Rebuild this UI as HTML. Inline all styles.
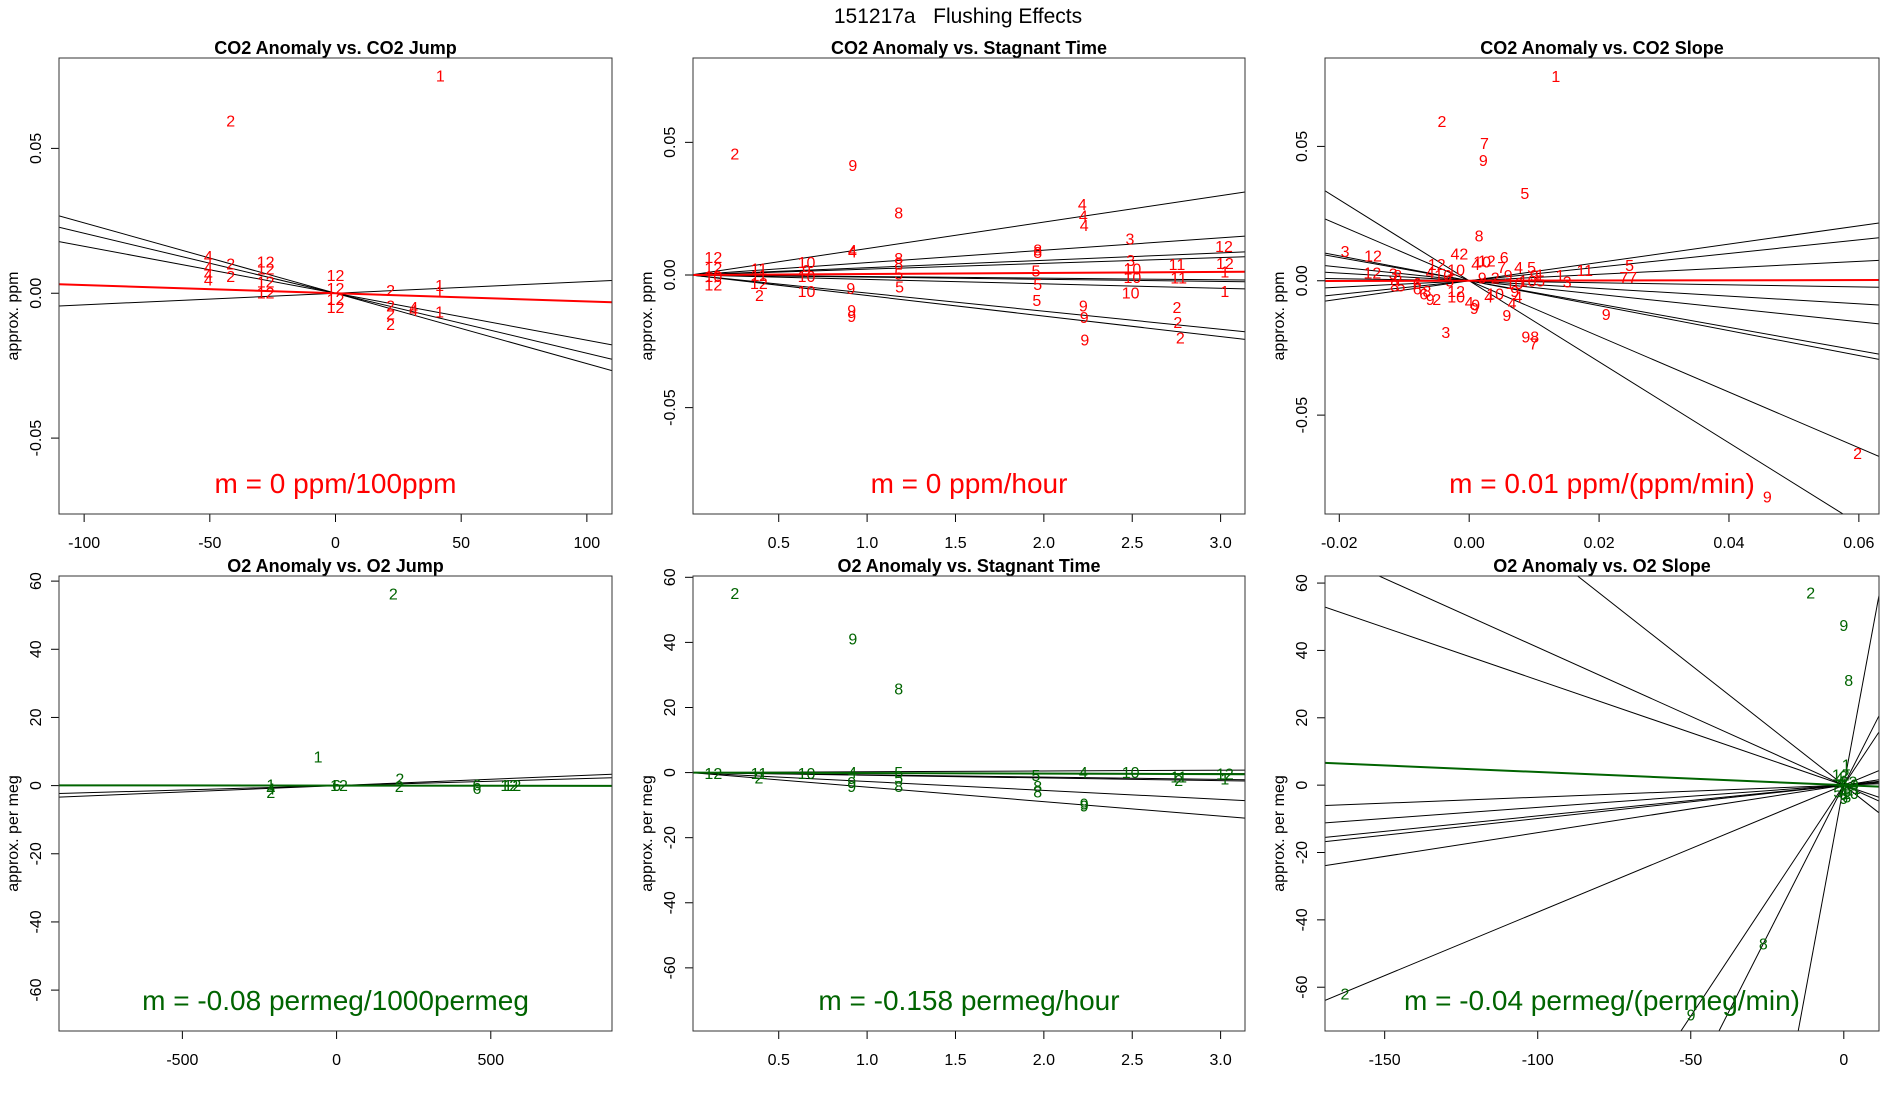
<!DOCTYPE html>
<html><head><meta charset="utf-8"><style>
html,body{margin:0;padding:0;background:#fff;width:1900px;height:1100px;overflow:hidden;}
svg{display:block;font-family:"Liberation Sans",Arial,sans-serif;}
</style></head><body>
<svg id="chart" width="1900" height="1100" viewBox="0 0 1900 1100" xmlns="http://www.w3.org/2000/svg">
<rect width="1900" height="1100" fill="#fff"/>
<text x="958" y="23" font-size="21" text-anchor="middle">151217a&#160;&#160;&#160;Flushing Effects</text>
</svg>
<script>
// ---- Panel 1: CO2 Anomaly vs CO2 Jump ----
const p1X=[41.7,-41.7,-50.6,-50.6,-50.6,-50.6,-41.7,-41.7,-27.8,-27.8,-27.8,-27.8,0,0,0,0,21.9,21.9,21.9,21.9,31.1,31.1,41.4,41.4,41.4];
const p1Y=[0.075,0.0594,0.0126,0.0089,0.0064,0.0046,0.0101,0.0058,0.0107,0.0083,0.0039,0.0,0.0062,0.0017,-0.0022,-0.0049,0.0009,-0.0044,-0.0071,-0.0108,-0.0049,-0.0059,0.0027,0.0005,-0.0065];
const p1Lab=["1","2","4","4","4","4","2","2","12","12","12","12","12","12","12","12","2","2","2","2","4","4","1","1","1"];
const p1Slopes=[-0.000243,-0.000207,-0.000162,0.00004];
const p1Fit=[-0.0000282];
// ---- Panel 2: CO2 Anomaly vs Stagnant Time ----
const p2X=[0.252,0.919,1.179,2.218,2.223,2.228,0.917,0.917,0.130,0.130,0.130,0.130,0.388,0.388,0.388,0.391,0.657,0.657,0.657,0.657,0.908,0.913,0.913,1.179,1.179,1.179,1.184,1.965,1.965,1.955,1.965,1.960,2.223,2.228,2.232,2.487,2.491,2.501,2.501,2.491,2.753,2.763,2.753,2.758,2.772,3.019,3.024,3.024,3.024];
const p2Y=[0.0457,0.0413,0.0234,0.0265,0.0223,0.0187,0.0093,0.0087,0.0066,0.0026,-0.0038,-0.0005,0.0022,-0.0001,-0.0032,-0.0077,0.0048,0.0017,-0.0005,-0.0063,-0.0050,-0.0133,-0.0157,0.0062,0.0042,0.0004,-0.0046,0.0095,0.0085,0.0015,-0.0036,-0.0097,-0.0117,-0.0160,-0.0245,0.0136,0.0055,0.0022,-0.0009,-0.0068,0.0039,-0.0012,-0.0122,-0.0180,-0.0238,0.0108,0.0044,0.0012,-0.0063];
const p2Lab=["2","9","8","4","4","4","4","4","12","12","12","10","11","11","12","2","10","9","10","10","9","9","9","8","8","5","5","8","8","5","5","5","9","9","9","3","3","10","10","10","11","11","2","2","2","12","12","1","1"];
const p2Slopes=[0.00997,0.00467,0.00277,0.00219,-0.0006,-0.00081,-0.00167,-0.00682,-0.00774];
const p2Fit=[0.000386];
// ---- Panel 3: CO2 Anomaly vs CO2 Slope ----
const p3X=[0.01335,-0.0042,0.00236,0.00217,0.00856,0.00153,-0.0191,-0.0148,-0.0149,-0.0015,0.0054,0.0027,0.0076,0.0096,0.0109,0.0140,0.0178,0.0247,0.0245,-0.0117,0.0151,0.0211,-0.0036,0.0094,0.0099,0.0058,0.0066,0.0008,0.0598,0.0459,-0.011,-0.0115,-0.0105,-0.008,-0.008,-0.007,-0.0065,-0.006,-0.005,-0.005,-0.006,-0.004,-0.003,-0.002,-0.002,-0.002,0.0,0.001,0.001,0.002,0.003,0.004,0.002,0.004,0.005,0.006,0.007,0.007,0.0075,0.009,0.010,0.011];
const p3Y=[0.0761,0.0593,0.0511,0.0447,0.0325,0.0166,0.0109,0.0092,0.0029,0.0099,0.0086,0.0073,0.0049,0.0049,0.0022,0.0020,0.0038,0.0057,0.0012,0.0025,-0.0004,-0.0126,-0.0192,-0.0210,-0.0236,-0.0130,-0.0085,-0.0103,-0.0643,-0.0804,0.002,-0.002,-0.002,-0.001,-0.003,-0.005,-0.004,-0.007,-0.007,0.006,0.003,0.002,0.000,0.004,-0.004,-0.006,-0.008,-0.009,0.006,0.007,-0.006,-0.005,0.001,0.001,0.005,0.002,-0.001,-0.004,-0.006,0.0,0.002,0.0];
const p3Lab=["1","2","7","9","5","8","3","12","12","42","6","12","4","5","1","1","11","5","77","3","3","9","3","98","7","9","4","9","2","9","8","8","5","6","6","6","8","9","2","12","4","10","5","10","12","10","4","9","4","10","4","10","9","2","7","9","10","9","4","10","9","5"];
const p3Slopes=[0.341,0.254,0.120,-0.038,-0.143,-0.254,-0.433,-0.464,-1.036,-1.508];
const p3Fit=[0.0043];
// ---- Panel 4: O2 Anomaly vs O2 Jump ----
const p4X=[184,-60,205,203,-213,-213,-213,0,8,455,455,570,560];
const p4Y=[56.2,8.4,2.0,-0.3,0.2,-1.0,-2.0,0.1,0.0,0.2,-0.8,0.0,0.0];
const p4Lab=["2","1","2","2","1","4","2","6","12","6","6","12","12"];
const p4Slopes=[0.00375,0.00258];
const p4Fit=[-0.00008];
// ---- Panel 5: O2 Anomaly vs Stagnant Time ----
const p5X=[0.252,0.919,1.179,0.130,0.388,0.388,0.657,0.917,0.913,0.913,1.179,1.179,1.179,1.955,1.965,1.965,2.223,2.228,2.228,2.491,2.763,2.763,3.024,3.024];
const p5Y=[55,41,25.7,-0.3,-0.3,-1.7,-0.3,0.0,-4.2,-3.1,0.0,-1.7,-4.2,-0.9,-4.2,-5.9,0.0,-9.7,-10.3,0.0,-2.5,-1.4,-0.4,-2.0];
const p5Lab=["2","9","8","12","11","2","10","4","9","9","5","5","8","5","8","8","4","9","9","10","2","11","12","1"];
const p5Slopes=[0.245,-0.105,-0.70,-0.83,-2.74,-4.46];
const p5Fit=[-0.158];
// ---- Panel 6: O2 Anomaly vs O2 Slope ----
const p6X=[-10.8,0,1.6,0.8,-26.3,-49.9,-163,-1,1,0,-2,2,0,1,-1,3,4,-0.5,0.5,2,-1.5];
const p6Y=[57,47.4,31,6,-47.2,-68.2,-62,1,-1,2.5,-2,0,-4,-3.5,3,1,-1,0,-1.5,-2.5,2];
const p6Lab=["2","9","8","1","8","9","2","4","6","3","5","10","9","8","12","2","1","7","11","10","4"];
const p6Slopes=[-0.312,0.0357,0.066,0.0914,0.099,0.141,0.377,-0.409,-0.714,1.372,1.79,4.9];
const p6Fit=[-0.039];

const SVGNS="http://www.w3.org/2000/svg";
const svg=document.getElementById('chart');
function mk(tag,attrs,parent){const e=document.createElementNS(SVGNS,tag);for(const k in attrs)e.setAttribute(k,attrs[k]);(parent||svg).appendChild(e);return e;}

const panels=[
 {id:'co2-jump',title:'CO2 Anomaly vs. CO2 Jump',L:59,R:612,T:58,B:514,x0:-110,x1:110,y0:-0.0762,y1:0.0812,xt:[-100,-50,0,50,100],xtl:['-100','-50','0','50','100'],yt:[-0.05,0,0.05],ytl:['-0.05','0.00','0.05'],ylab:'approx. ppm',col:'#ff0000',ann:'m = 0 ppm/100ppm',X:p1X,Y:p1Y,Lb:p1Lab,S:p1Slopes,F:p1Fit},
 {id:'co2-stagnant',title:'CO2 Anomaly vs. Stagnant Time',L:693,R:1245,T:58,B:514,x0:0.015,x1:3.138,y0:-0.0901,y1:0.0818,xt:[0.5,1,1.5,2,2.5,3],xtl:['0.5','1.0','1.5','2.0','2.5','3.0'],yt:[-0.05,0,0.05],ytl:['-0.05','0.00','0.05'],ylab:'approx. ppm',col:'#ff0000',ann:'m = 0 ppm/hour',X:p2X,Y:p2Y,Lb:p2Lab,S:p2Slopes,F:p2Fit},
 {id:'co2-slope',title:'CO2 Anomaly vs. CO2 Slope',L:1325,R:1879,T:58,B:514,x0:-0.0222,x1:0.0631,y0:-0.0868,y1:0.0829,xt:[-0.02,0,0.02,0.04,0.06],xtl:['-0.02','0.00','0.02','0.04','0.06'],yt:[-0.05,0,0.05],ytl:['-0.05','0.00','0.05'],ylab:'approx. ppm',col:'#ff0000',ann:'m = 0.01 ppm/(ppm/min)',X:p3X,Y:p3Y,Lb:p3Lab,S:p3Slopes,F:p3Fit},
 {id:'o2-jump',title:'O2 Anomaly vs. O2 Jump',L:59,R:612,T:576,B:1031,x0:-900,x1:893,y0:-72,y1:61.5,xt:[-500,0,500],xtl:['-500','0','500'],yt:[-60,-40,-20,0,20,40,60],ytl:['-60','-40','-20','0','20','40','60'],ylab:'approx. per meg',col:'#006400',ann:'m = -0.08 permeg/1000permeg',X:p4X,Y:p4Y,Lb:p4Lab,S:p4Slopes,F:p4Fit},
 {id:'o2-stagnant',title:'O2 Anomaly vs. Stagnant Time',L:693,R:1245,T:576,B:1031,x0:0.015,x1:3.138,y0:-79.4,y1:60.4,xt:[0.5,1,1.5,2,2.5,3],xtl:['0.5','1.0','1.5','2.0','2.5','3.0'],yt:[-60,-40,-20,0,20,40,60],ytl:['-60','-40','-20','0','20','40','60'],ylab:'approx. per meg',col:'#006400',ann:'m = -0.158 permeg/hour',X:p5X,Y:p5Y,Lb:p5Lab,S:p5Slopes,F:p5Fit},
 {id:'o2-slope',title:'O2 Anomaly vs. O2 Slope',L:1325,R:1879,T:576,B:1031,x0:-169.5,x1:11.5,y0:-73,y1:62.1,xt:[-150,-100,-50,0],xtl:['-150','-100','-50','0'],yt:[-60,-40,-20,0,20,40,60],ytl:['-60','-40','-20','0','20','40','60'],ylab:'approx. per meg',col:'#006400',ann:'m = -0.04 permeg/(permeg/min)',X:p6X,Y:p6Y,Lb:p6Lab,S:p6Slopes,F:p6Fit}
];

panels.forEach((p,pi)=>{
 const sx=v=>p.L+(v-p.x0)/(p.x1-p.x0)*(p.R-p.L);
 const sy=v=>p.B-(v-p.y0)/(p.y1-p.y0)*(p.B-p.T);
 const g=mk('g',{});
 
 
 const cp=mk('clipPath',{id:'clip'+pi},g);
 mk('rect',{x:p.L,y:p.T,width:p.R-p.L,height:p.B-p.T},cp);
 const t=mk('text',{x:(p.L+p.R)/2,y:p.T-4,'font-size':18,'font-weight':'bold','text-anchor':'middle'},g);
 t.textContent=p.title;
 
 
 p.xt.forEach((v,i)=>{
  const x=sx(v);
  const tk=mk('line',{x1:x,x2:x,y1:p.B,y2:p.B+8,stroke:'#000','stroke-width':1},g);
  
  
  const tl=mk('text',{x:x,y:p.B+34,'font-size':16,'text-anchor':'middle'},g);
  tl.textContent=p.xtl[i];
  
  
 });
 const xl=mk('line',{x1:sx(p.xt[0]),x2:sx(p.xt[p.xt.length-1]),y1:p.B,y2:p.B,stroke:'#000'},g);
 
 
 p.yt.forEach((v,i)=>{
  const y=sy(v);
  const tk=mk('line',{x1:p.L-8,x2:p.L,y1:y,y2:y,stroke:'#000'},g);
  
  
  const tl=mk('text',{x:0,y:0,'font-size':16,'text-anchor':'middle',transform:'translate('+(p.L-18)+','+y+') rotate(-90)'},g);
  tl.textContent=p.ytl[i];
  
  
 });
 const yl=mk('text',{x:0,y:0,'font-size':16,'text-anchor':'middle',transform:'translate('+(p.L-41)+','+((p.T+p.B)/2+30)+') rotate(-90)'},g);
 yl.textContent=p.ylab;
 
 
 const lg=mk('g',{'clip-path':'url(#clip'+pi+')'},g);
 p.S.forEach(m=>{
  const ln=mk('line',{x1:sx(p.x0),y1:sy(m*p.x0),x2:sx(p.x1),y2:sy(m*p.x1),stroke:'#000','stroke-width':1},lg);
  
  
 });
 p.F.forEach(m=>{
  const ln=mk('line',{x1:sx(p.x0),y1:sy(m*p.x0),x2:sx(p.x1),y2:sy(m*p.x1),stroke:p.col,'stroke-width':2},lg);
  
  
 });
 p.X.forEach((xv,i)=>{
  const tx=mk('text',{x:sx(xv),y:sy(p.Y[i])+5.5,'font-size':16,fill:p.col,'text-anchor':'middle'},g);
  tx.textContent=p.Lb[i];
  
  
 });
 const bx=mk('rect',{x:p.L,y:p.T,width:p.R-p.L,height:p.B-p.T,fill:'none',stroke:'#333','stroke-width':1},g);
 
 
 const an=mk('text',{x:(p.L+p.R)/2,y:p.B-21,'font-size':28,fill:p.col,'text-anchor':'middle'},g);
 an.textContent=p.ann;
 
 
});
</script>
</body></html>
